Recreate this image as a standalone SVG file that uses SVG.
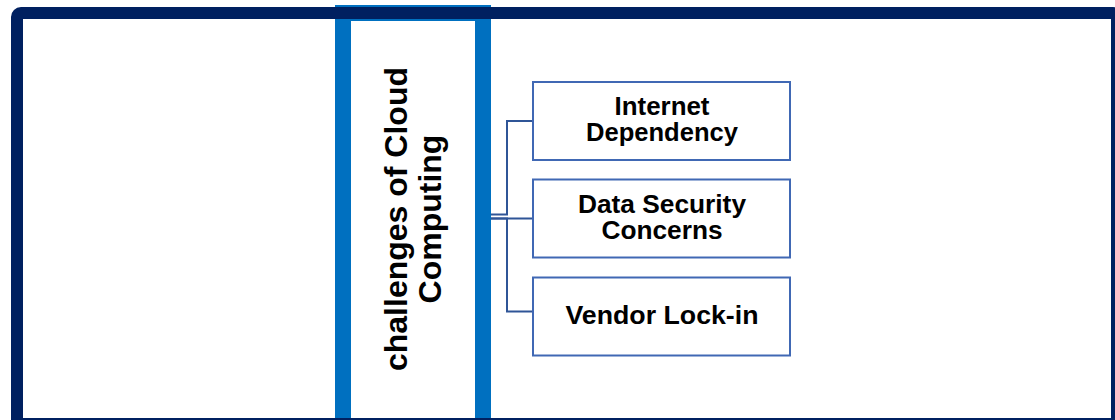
<svg xmlns="http://www.w3.org/2000/svg" width="1115" height="420" viewBox="0 0 1115 420">
  <style>
    .main { fill: #ffffff; stroke: #0070C0; stroke-width: 16; }
    .frame { fill: none; stroke: #002060; stroke-width: 12; }
    .box { fill: #ffffff; stroke: #4068B4; stroke-width: 2; }
    .conn { fill: none; stroke: #2F5597; stroke-width: 2; }
    .lbl { font-family: "Liberation Sans", Arial, sans-serif; font-weight: bold; font-size: 25px; fill: #000000; text-anchor: middle; }
    .title { font-family: "Liberation Sans", Arial, sans-serif; font-weight: bold; font-size: 32px; fill: #000000; text-anchor: middle; }
  </style>
  <rect x="0" y="0" width="1115" height="420" fill="#ffffff"/>
  <g id="main-node">
    <rect class="main" x="343" y="13" width="140" height="420"/>
    <text class="title" transform="translate(407,219) rotate(-90)">challenges of Cloud</text>
    <text class="title" transform="translate(441,219) rotate(-90)">Computing</text>
  </g>
  <g id="frame">
    <rect class="frame" x="17" y="13" width="1100" height="411" rx="4" ry="4"/>
  </g>
  <g id="connectors">
    <path class="conn" d="M491,214.5 H507 V121 H533"/>
    <path class="conn" d="M491,218.5 H533"/>
    <path class="conn" d="M491,218.5 H507 V311.5 H533"/>
  </g>
  <g id="node-internet">
    <rect class="box" x="533" y="82" width="257" height="78"/>
    <text class="lbl" x="662" y="115" textLength="95" lengthAdjust="spacingAndGlyphs">Internet</text>
    <text class="lbl" x="662" y="141" textLength="152" lengthAdjust="spacingAndGlyphs">Dependency</text>
  </g>
  <g id="node-security">
    <rect class="box" x="533" y="179.5" width="257" height="78"/>
    <text class="lbl" x="662" y="212.5" textLength="168" lengthAdjust="spacingAndGlyphs">Data Security</text>
    <text class="lbl" x="662" y="239" textLength="121" lengthAdjust="spacingAndGlyphs">Concerns</text>
  </g>
  <g id="node-vendor">
    <rect class="box" x="533" y="277.5" width="257" height="78"/>
    <text class="lbl" x="662" y="324" textLength="193" lengthAdjust="spacingAndGlyphs">Vendor Lock-in</text>
  </g>
</svg>
